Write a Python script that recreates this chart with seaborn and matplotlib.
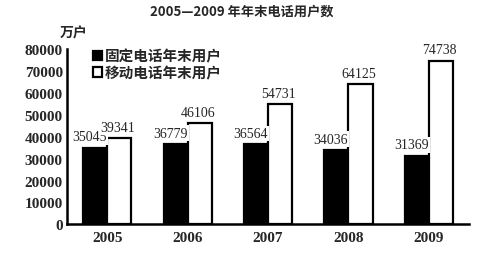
import matplotlib
matplotlib.use("Agg")
import matplotlib.pyplot as plt
import seaborn as sns
import pandas as pd
from matplotlib.ticker import FixedLocator

years = ["2005", "2006", "2007", "2008", "2009"]
fixed = [35045, 36779, 36564, 34036, 31369]
mobile = [39341, 46106, 54731, 64125, 74738]
series_names = ["固定电话年末用户", "移动电话年末用户"]
yticks = [0, 10000, 20000, 30000, 40000, 50000, 60000, 70000, 80000]
title = "2005—2009 年年末电话用户数"
ylabel = "万户"

df = pd.DataFrame({
    "year": years * 2,
    "value": fixed + mobile,
    "series": [series_names[0]] * 5 + [series_names[1]] * 5,
})

sns.set_style("white")
cjk = ["Noto Sans CJK SC", "DejaVu Sans"]
serif = ["Liberation Serif", "DejaVu Serif"]

fig = plt.figure(figsize=(4.86, 2.55), dpi=100)
ax = fig.add_axes([0.138, 0.116, 0.827, 0.688])

sns.barplot(data=df, x="year", y="value", hue="series", hue_order=series_names,
            palette=["black", "white"], edgecolor="black", linewidth=1.6,
            width=0.6, gap=0, ax=ax, legend=True)

ax.set_ylim(0, 80000)
ax.set_xlim(-0.5, 4.5)
ax.set_yticks(yticks)
ax.set_yticklabels([str(v) for v in yticks], family=serif, fontsize=11, fontweight="bold")
ax.set_xticklabels(years, family=serif, fontsize=11, fontweight="bold")
ax.tick_params(axis="x", which="major", length=0, pad=5)
ax.tick_params(axis="y", direction="in", length=5, width=1.5, pad=3)
ax.xaxis.set_minor_locator(FixedLocator([0.5, 1.5, 2.5, 3.5, 4.5]))
ax.tick_params(axis="x", which="minor", direction="in", length=5, width=1.5)
for s in ["top", "right"]:
    ax.spines[s].set_visible(False)
for s in ["left", "bottom"]:
    ax.spines[s].set_linewidth(1.8)
    ax.spines[s].set_color("black")
ax.set_xlabel("")
ax.set_ylabel("")

# value labels
for i, v in enumerate(fixed):
    ax.annotate(str(v), xy=(i - 0.15, v), xytext=(-4, 3), textcoords="offset points",
                ha="center", va="bottom", family=serif, fontsize=10,
                bbox=dict(boxstyle="square,pad=0.1", fc="white", ec="none"))
for i, v in enumerate(mobile):
    ax.annotate(str(v), xy=(i + 0.15, v), xytext=(-1, 3), textcoords="offset points",
                ha="center", va="bottom", family=serif, fontsize=10,
                bbox=dict(boxstyle="square,pad=0.1", fc="white", ec="none"))

leg = ax.legend(loc="upper left", bbox_to_anchor=(0.05, 1.04), frameon=False,
                prop={"family": cjk, "size": 10.5, "weight": "bold"},
                handlelength=0.6, handleheight=0.6, handletextpad=0.2,
                labelspacing=0.02, borderaxespad=0)

fig.text(0.497, 0.955, title, ha="center", va="center", family=cjk,
         fontsize=9.5, fontweight="bold")
fig.text(0.123, 0.87, ylabel, ha="left", va="center", family=cjk,
         fontsize=10, fontweight="bold")

fig.savefig("out.png", dpi=100)
